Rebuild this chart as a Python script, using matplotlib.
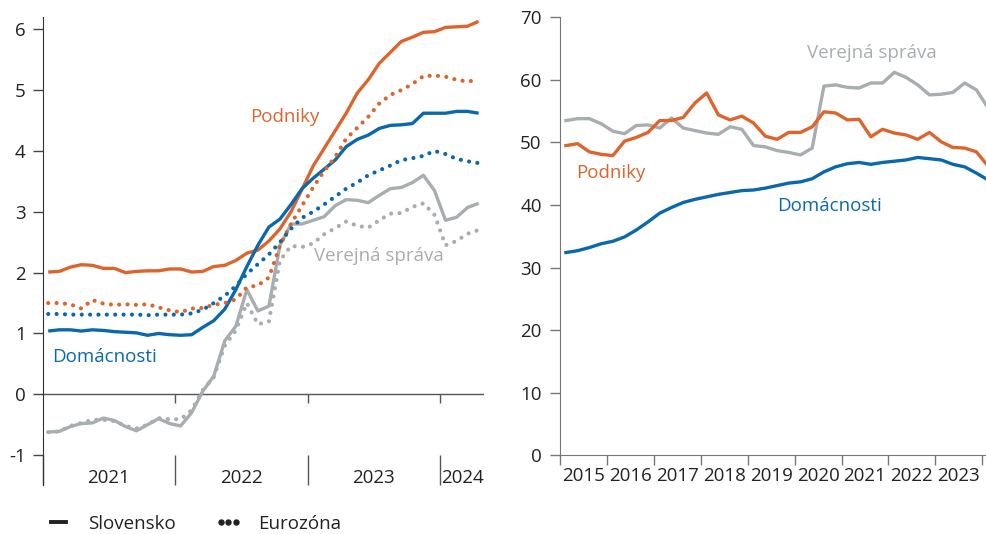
import numpy as np
import matplotlib
matplotlib.use("Agg")
import matplotlib.pyplot as plt
from matplotlib.lines import Line2D

plt.rcParams['font.family'] = ['Open Sans', 'DejaVu Sans']

# --- left panel: monthly, Jan 2021 - Apr 2024 (%) ---
sk_podniky = [2.01, 2.02, 2.09, 2.13, 2.12, 2.07, 2.07, 2.0, 2.02, 2.03,
              2.03, 2.06, 2.06, 2.01, 2.02, 2.1, 2.12, 2.2, 2.32, 2.37,
              2.52, 2.72, 3.0, 3.37, 3.75, 4.04, 4.33, 4.62, 4.95, 5.17,
              5.44, 5.62, 5.8, 5.87, 5.95, 5.96, 6.03, 6.04, 6.05, 6.13]
ea_podniky = [1.5, 1.5, 1.48, 1.41, 1.55, 1.49, 1.47, 1.48, 1.47, 1.48,
              1.43, 1.38, 1.35, 1.41, 1.42, 1.47, 1.5, 1.56, 1.76, 1.79,
              1.92, 2.45, 2.8, 3.1, 3.4, 3.67, 3.9, 4.2, 4.38, 4.56,
              4.78, 4.92, 5.0, 5.1, 5.23, 5.24, 5.22, 5.17, 5.14, 5.17]
sk_dom = [1.04, 1.06, 1.06, 1.04, 1.06, 1.05, 1.03, 1.02, 1.01, 0.97,
          1.0, 0.98, 0.97, 0.98, 1.1, 1.21, 1.4, 1.72, 2.1, 2.45,
          2.75, 2.88, 3.12, 3.38, 3.55, 3.7, 3.85, 4.07, 4.19, 4.26,
          4.37, 4.42, 4.43, 4.45, 4.62, 4.62, 4.62, 4.65, 4.65, 4.62]
ea_dom = [1.32, 1.32, 1.31, 1.31, 1.31, 1.31, 1.31, 1.31, 1.31, 1.3,
          1.31, 1.31, 1.31, 1.33, 1.39, 1.5, 1.62, 1.78, 1.98, 2.14,
          2.3, 2.5, 2.72, 2.9, 3.0, 3.12, 3.25, 3.38, 3.48, 3.6,
          3.68, 3.76, 3.85, 3.88, 3.92, 4.0, 3.95, 3.87, 3.83, 3.8]
sk_vs = [-0.62, -0.61, -0.53, -0.48, -0.47, -0.39, -0.43, -0.53, -0.6, -0.5,
         -0.4, -0.48, -0.52, -0.3, 0.05, 0.3, 0.88, 1.12, 1.72, 1.37,
         1.45, 2.45, 2.8, 2.8, 2.86, 2.92, 3.1, 3.2, 3.19, 3.15,
         3.27, 3.38, 3.4, 3.48, 3.6, 3.35, 2.86, 2.91, 3.07, 3.14]
ea_vs = [-0.62, -0.61, -0.52, -0.47, -0.42, -0.42, -0.44, -0.52, -0.56, -0.5,
         -0.39, -0.41, -0.41, -0.26, 0.07, 0.28, 0.8, 1.05, 1.5, 1.15,
         1.2, 2.2, 2.44, 2.42, 2.48, 2.63, 2.73, 2.84, 2.77, 2.74,
         2.86, 2.97, 2.98, 3.08, 3.14, 2.95, 2.45, 2.52, 2.64, 2.7]
roky_l = ['2021', '2022', '2023', '2024']

# --- right panel: quarterly, 2015Q1 - 2024Q1 (%) ---
podniky_r = [49.5, 49.8, 48.5, 48.1, 47.9, 50.2, 50.8, 51.6, 53.5, 53.5,
             54.0, 56.3, 57.9, 54.4, 53.6, 54.2, 53.1, 51.0, 50.5, 51.6,
             51.6, 52.5, 54.9, 54.7, 53.6, 53.7, 50.9, 52.1, 51.5, 51.2,
             50.5, 51.6, 50.1, 49.2, 49.1, 48.5, 46.2]
vs_r = [53.5, 53.8, 53.8, 53.0, 51.8, 51.4, 52.7, 52.8, 52.3, 53.9,
        52.3, 51.9, 51.5, 51.3, 52.5, 52.1, 49.5, 49.3, 48.7, 48.4,
        48.0, 49.1, 59.0, 59.2, 58.8, 58.7, 59.5, 59.5, 61.2, 60.4,
        59.2, 57.6, 57.7, 58.0, 59.5, 58.4, 55.5]
dom_r = [32.4, 32.7, 33.2, 33.8, 34.2, 34.9, 36.0, 37.3, 38.7, 39.6,
         40.4, 40.9, 41.3, 41.7, 42.0, 42.3, 42.4, 42.7, 43.1, 43.5,
         43.7, 44.2, 45.3, 46.1, 46.6, 46.8, 46.5, 46.8, 47.0, 47.2,
         47.6, 47.4, 47.2, 46.5, 46.1, 45.1, 44.0]
roky_r = list(range(2015, 2024))

ORANGE = '#DD642C'
BLUE = '#0A69AD'
GRAY = '#A8ADB0'
TXT = '#222222'
DOT = (0, (0.01, 2.0))
FS = 13.5

fig = plt.figure(figsize=(9.86, 5.34), dpi=100)
ax1 = fig.add_axes([0.0433, 0.0918, 0.4477, 0.8762])
ax2 = fig.add_axes([0.568, 0.1474, 0.432, 0.8202])

#------------------------------------------------
# left panel
xm = np.arange(len(sk_podniky)) + 0.5
for vals, col in [(sk_vs, GRAY), (sk_podniky, ORANGE), (sk_dom, BLUE)]:
    ax1.plot(xm, vals, color=col, lw=2.4, solid_capstyle='butt', zorder=3)
for vals, col in [(ea_vs, GRAY), (ea_podniky, ORANGE), (ea_dom, BLUE)]:
    ax1.plot(xm, vals, color=col, lw=3.0, linestyle=DOT,
             dash_capstyle='round', zorder=3)

ax1.set_xlim(0, len(sk_podniky))
ax1.set_ylim(-1.49, 6.2)
ax1.set_yticks(range(-1, 7))
ax1.set_yticklabels([str(v) for v in range(-1, 7)])
ax1.axhline(0, color='#555555', lw=1.0, zorder=2)
# small ticks on the zero line
ax1.vlines([12, 24, 36], -0.15, 0, color='#555555', lw=1.0)
# year separators at the bottom
ax1.set_xticks([0, 12, 24, 36])
ax1.set_xticklabels([])
ax1.tick_params(axis='x', which='major', direction='in', length=21.6,
                width=1.0, color='#555555')
ax1.set_xticks([6, 18, 30, 38], minor=True)
ax1.set_xticklabels(roky_l, minor=True)
ax1.tick_params(axis='x', which='minor', length=0, pad=-11.5, labelsize=FS,
                labelcolor=TXT)
ax1.tick_params(axis='y', length=7.2, width=1.0, color='#444444', pad=5,
                labelsize=FS, labelcolor=TXT)
for s in ['top', 'right', 'bottom']:
    ax1.spines[s].set_visible(False)
ax1.spines['left'].set_color('#333333')

ax1.text(21.9, 4.56, 'Podniky', color=ORANGE, fontsize=FS, ha='center', va='center')
ax1.text(0.85, 0.61, 'Domácnosti', color=BLUE, fontsize=FS, ha='left', va='center')
ax1.text(24.6, 2.27, 'Verejná správa', color=GRAY, fontsize=FS, ha='left', va='center')

#------------------------------------------------
# right panel
xq = 2015 + (np.arange(len(dom_r)) + 0.5) / 4
ax2.plot(xq, vs_r, color=GRAY, lw=2.4)
ax2.plot(xq, podniky_r, color=ORANGE, lw=2.4)
ax2.plot(xq, dom_r, color=BLUE, lw=2.4)

ax2.set_xlim(2015, 2024.08)
ax2.set_ylim(0, 70)
ax2.set_yticks(range(0, 71, 10))
ax2.set_xticks(range(2015, 2025))
ax2.set_xticklabels([])
ax2.set_xticks([r + 0.5 for r in roky_r], minor=True)
ax2.set_xticklabels([str(r) for r in roky_r], minor=True)
ax2.tick_params(axis='x', which='major', length=7.2, width=1.0, color='#777777')
ax2.tick_params(axis='x', which='minor', length=0, pad=8.5, labelsize=FS,
                labelcolor=TXT)
ax2.tick_params(axis='y', length=7.2, width=1.0, color='#777777', pad=6,
                labelsize=FS, labelcolor=TXT)
for s in ['top', 'right']:
    ax2.spines[s].set_visible(False)
ax2.spines['left'].set_color('#777777')
ax2.spines['bottom'].set_color('#777777')

ax2.text(2020.27, 64.3, 'Verejná správa', color=GRAY, fontsize=FS, ha='left', va='center')
ax2.text(2015.34, 45.1, 'Podniky', color=ORANGE, fontsize=FS, ha='left', va='center')
ax2.text(2019.63, 39.8, 'Domácnosti', color=BLUE, fontsize=FS, ha='left', va='center')

#------------------------------------------------
# legend
handles = [Line2D([], [], color='#222222', lw=2.8),
           Line2D([], [], color='#222222', ls='none', marker='o', ms=3.6)]
fig.legend(handles, ['Slovensko', 'Eurozóna'], loc='center left',
           bbox_to_anchor=(0.0284, 0.019), ncol=2, frameon=False,
           fontsize=FS, handlelength=1.4, handletextpad=0.9, numpoints=3,
           columnspacing=2.1, labelcolor=TXT)

fig.savefig('out.png', dpi=100)
